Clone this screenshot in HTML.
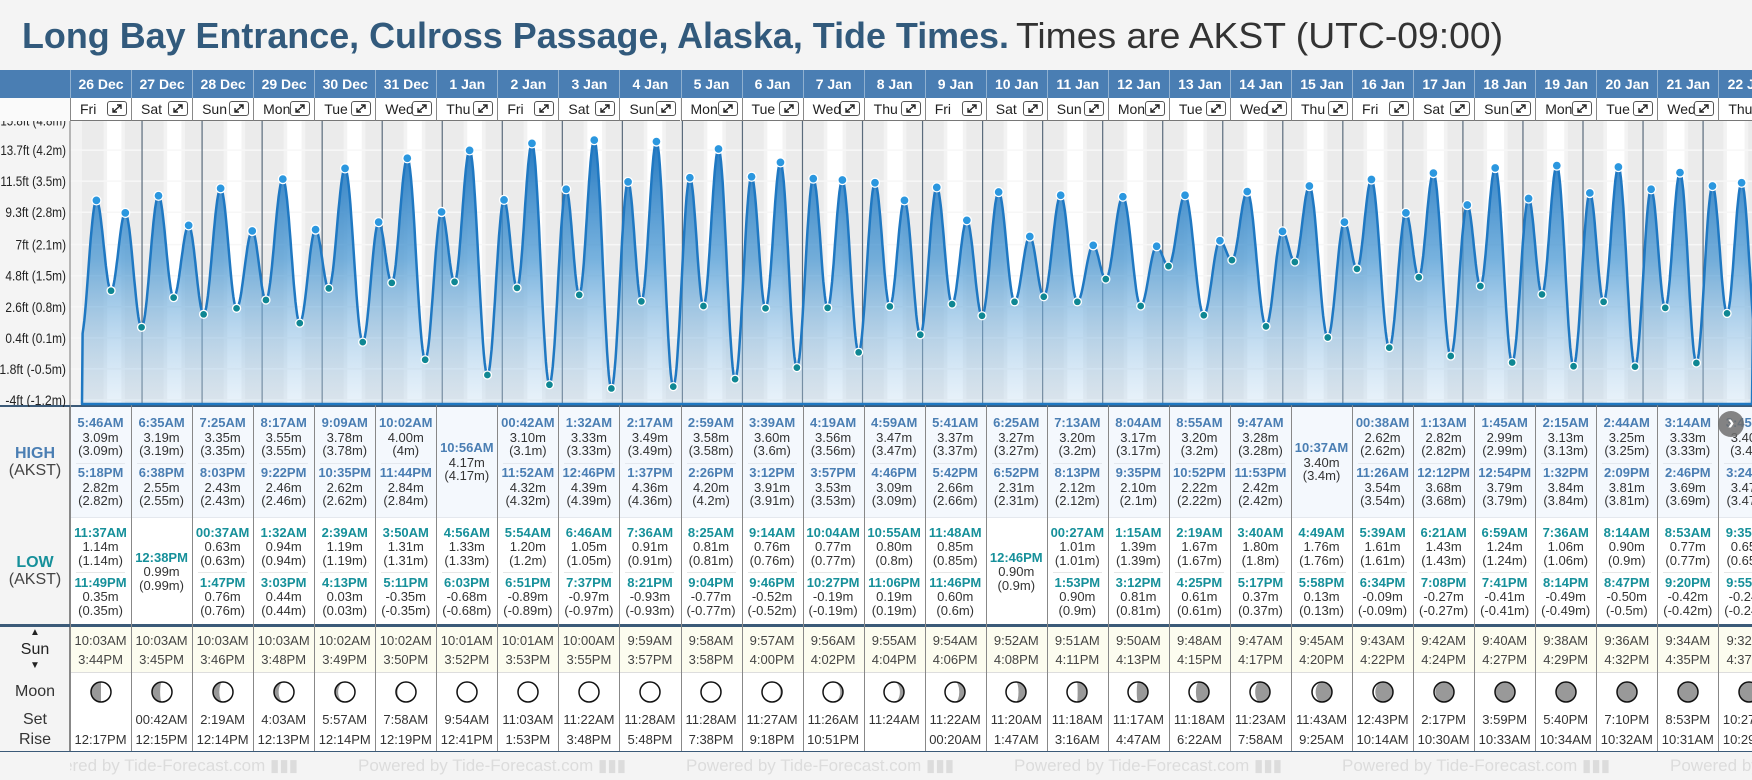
<!DOCTYPE html>
<html><head><meta charset="utf-8"><title>Tide Times</title>
<style>
body{margin:0;width:1752px;height:780px;overflow:hidden;background:#f4f4f4;font-family:"Liberation Sans",sans-serif;position:relative}
.a{position:absolute}
</style></head><body>
<svg class="a" style="left:0;top:0" width="1752" height="68">
<text x="22" y="48" font-family="Liberation Sans, sans-serif" font-weight="bold" font-size="36" fill="#325a7c" textLength="987" lengthAdjust="spacingAndGlyphs">Long Bay Entrance, Culross Passage, Alaska, Tide Times.</text>
<text x="1016" y="48" font-family="Liberation Sans, sans-serif" font-size="36" fill="#333" textLength="487" lengthAdjust="spacingAndGlyphs">Times are AKST (UTC-09:00)</text>
</svg>
<div id="root" class="a" style="left:0;top:0;width:1752px;height:780px"></div>
<svg id="chart" class="a" style="left:0;top:121px" width="1752" height="286"></svg>
<script>
const days=['26 Dec','27 Dec','28 Dec','29 Dec','30 Dec','31 Dec','1 Jan','2 Jan','3 Jan','4 Jan','5 Jan','6 Jan','7 Jan','8 Jan','9 Jan','10 Jan','11 Jan','12 Jan','13 Jan','14 Jan','15 Jan','16 Jan','17 Jan','18 Jan','19 Jan','20 Jan','21 Jan','22 Jan'];
const weekdays=['Fri','Sat','Sun','Mon','Tue','Wed','Thu','Fri','Sat','Sun','Mon','Tue','Wed','Thu','Fri','Sat','Sun','Mon','Tue','Wed','Thu','Fri','Sat','Sun','Mon','Tue','Wed','Thu'];
const highTimes=[["5:46AM","5:18PM"],["6:35AM","6:38PM"],["7:25AM","8:03PM"],["8:17AM","9:22PM"],["9:09AM","10:35PM"],["10:02AM","11:44PM"],["10:56AM"],["00:42AM","11:52AM"],["1:32AM","12:46PM"],["2:17AM","1:37PM"],["2:59AM","2:26PM"],["3:39AM","3:12PM"],["4:19AM","3:57PM"],["4:59AM","4:46PM"],["5:41AM","5:42PM"],["6:25AM","6:52PM"],["7:13AM","8:13PM"],["8:04AM","9:35PM"],["8:55AM","10:52PM"],["9:47AM","11:53PM"],["10:37AM"],["00:38AM","11:26AM"],["1:13AM","12:12PM"],["1:45AM","12:54PM"],["2:15AM","1:32PM"],["2:44AM","2:09PM"],["3:14AM","2:46PM"],["3:45AM","3:24PM"]];
const highHeights=[[3.09,2.82],[3.19,2.55],[3.35,2.43],[3.55,2.46],[3.78,2.62],[4.00,2.84],[4.17],[3.10,4.32],[3.33,4.39],[3.49,4.36],[3.58,4.20],[3.60,3.91],[3.56,3.53],[3.47,3.09],[3.37,2.66],[3.27,2.31],[3.20,2.12],[3.17,2.10],[3.20,2.22],[3.28,2.42],[3.40],[2.62,3.54],[2.82,3.68],[2.99,3.79],[3.13,3.84],[3.25,3.81],[3.33,3.69],[3.40,3.47]];
const lowTimes=[["11:37AM","11:49PM"],["12:38PM"],["00:37AM","1:47PM"],["1:32AM","3:03PM"],["2:39AM","4:13PM"],["3:50AM","5:11PM"],["4:56AM","6:03PM"],["5:54AM","6:51PM"],["6:46AM","7:37PM"],["7:36AM","8:21PM"],["8:25AM","9:04PM"],["9:14AM","9:46PM"],["10:04AM","10:27PM"],["10:55AM","11:06PM"],["11:48AM","11:46PM"],["12:46PM"],["00:27AM","1:53PM"],["1:15AM","3:12PM"],["2:19AM","4:25PM"],["3:40AM","5:17PM"],["4:49AM","5:58PM"],["5:39AM","6:34PM"],["6:21AM","7:08PM"],["6:59AM","7:41PM"],["7:36AM","8:14PM"],["8:14AM","8:47PM"],["8:53AM","9:20PM"],["9:35AM","9:55PM"]];
const lowHeights=[[1.14,0.35],[0.99],[0.63,0.76],[0.94,0.44],[1.19,0.03],[1.31,-0.35],[1.33,-0.68],[1.20,-0.89],[1.05,-0.97],[0.91,-0.93],[0.81,-0.77],[0.76,-0.52],[0.77,-0.19],[0.80,0.19],[0.85,0.60],[0.90],[1.01,0.90],[1.39,0.81],[1.67,0.61],[1.80,0.37],[1.76,0.13],[1.61,-0.09],[1.43,-0.27],[1.24,-0.41],[1.06,-0.49],[0.90,-0.50],[0.77,-0.42],[0.65,-0.24]];
const sunRise=['10:03AM','10:03AM','10:03AM','10:03AM','10:02AM','10:02AM','10:01AM','10:01AM','10:00AM','9:59AM','9:58AM','9:57AM','9:56AM','9:55AM','9:54AM','9:52AM','9:51AM','9:50AM','9:48AM','9:47AM','9:45AM','9:43AM','9:42AM','9:40AM','9:38AM','9:36AM','9:34AM','9:32AM'];
const sunSet=['3:44PM','3:45PM','3:46PM','3:48PM','3:49PM','3:50PM','3:52PM','3:53PM','3:55PM','3:57PM','3:58PM','4:00PM','4:02PM','4:04PM','4:06PM','4:08PM','4:11PM','4:13PM','4:15PM','4:17PM','4:20PM','4:22PM','4:24PM','4:27PM','4:29PM','4:32PM','4:35PM','4:37PM'];
const moonSet=['','00:42AM','2:19AM','4:03AM','5:57AM','7:58AM','9:54AM','11:03AM','11:22AM','11:28AM','11:28AM','11:27AM','11:26AM','11:24AM','11:22AM','11:20AM','11:18AM','11:17AM','11:18AM','11:23AM','11:43AM','12:43PM','2:17PM','3:59PM','5:40PM','7:10PM','8:53PM','10:27PM'];
const moonRise=['12:17PM','12:15PM','12:14PM','12:13PM','12:14PM','12:19PM','12:41PM','1:53PM','3:48PM','5:48PM','7:38PM','9:18PM','10:51PM','','00:20AM','1:47AM','3:16AM','4:47AM','6:22AM','7:58AM','9:25AM','10:14AM','10:30AM','10:33AM','10:34AM','10:32AM','10:31AM','10:29AM'];
const moonPhase=[0.25,0.28,0.31,0.34,0.37,0.41,0.44,0.47,0.50,0.53,0.56,0.59,0.62,0.65,0.68,0.71,0.74,0.77,0.80,0.83,0.86,0.89,0.92,0.95,0.98,0.02,0.05,0.08];
const tickFt=['-4ft','-1.8ft','0.4ft','2.6ft','4.8ft','7ft','9.3ft','11.5ft','13.7ft','15.8ft'];
const tickM=['-1.2m','-0.5m','0.1m','0.8m','1.5m','2.1m','2.8m','3.5m','4.2m','4.8m'];
const priorLowTime=-0.03, priorLowHeight=0.05;

const CW=61.05, CX=70;
const root=document.getElementById('root');
function mk(tag,css,txt,parent){const e=document.createElement(tag);e.style.cssText=css;if(txt!==undefined)e.textContent=txt;(parent||root).appendChild(e);return e;}

let e;
e=mk('div','position:absolute;left:0;top:70px;width:1752px;height:28px;background:#4a7eb3');


e=mk('div','position:absolute;left:0;top:98px;width:70px;height:23px;background:#fafafa;border-bottom:1px solid #777');


e=mk('div','position:absolute;left:0;top:405px;width:70px;height:347px;background:#f4f4f4;border-right:1px solid #888;box-sizing:border-box');


e=mk('div','position:absolute;left:70px;top:405px;width:1682px;height:112px;background:#f4f8fd');


e=mk('div','position:absolute;left:70px;top:517px;width:1682px;height:109px;background:#fff;border-top:1px solid #e4e8ee');


e=mk('div','position:absolute;left:70px;top:626px;width:1682px;height:46px;background:#fcfcef');


e=mk('div','position:absolute;left:70px;top:672px;width:1682px;height:79px;background:#fff;border-top:1px solid #ddd');


e=mk('div','position:absolute;left:0;top:624px;width:1752px;height:3px;background:#3b5a78');


e=mk('div','position:absolute;left:0;top:404px;width:1752px;height:3px;background:#3b5a78');


e=mk('div','position:absolute;left:0;top:751px;width:1752px;height:1px;background:#3b5a78');



function lab(txt,y,css,name){const d=mk('div','position:absolute;left:0;width:70px;top:'+(y-9)+'px;text-align:center;line-height:18px;font-size:16px;'+css,txt);}
lab('HIGH',454,'font-weight:bold;color:#4a7eb3','high-label');
lab('(AKST)',471,'color:#444','high-tz-label');
lab('LOW',563,'font-weight:bold;color:#16909a','low-label');
lab('(AKST)',580,'color:#444','low-tz-label');
lab('▲',633,'font-size:10px;color:#222','sunrise-arrow');
lab('Sun',650,'color:#222','sun-label');
lab('▼',666,'font-size:10px;color:#222','sunset-arrow');
lab('Moon',692,'color:#333','moon-label');
lab('Set',720,'color:#333','moonset-label');
lab('Rise',740,'color:#333','moonrise-label');

function txt(x,y,s,css,name){const d=mk('div','position:absolute;left:'+x+'px;width:'+CW+'px;top:'+(y-8)+'px;text-align:center;line-height:16px;white-space:nowrap;font-size:13px;color:#333;'+css,s);return d;}
function fmtP(v){return '('+String(parseFloat(v.toFixed(2)))+'m)';}

for(let i=0;i<days.length;i++){
  const x=CX+i*CW;
  e=mk('div','position:absolute;left:'+x+'px;top:70px;width:'+CW+'px;height:28px;box-sizing:border-box;border-left:1px solid #8fb0d0;color:#fff;font-weight:bold;font-size:14px;line-height:28px;text-align:center;white-space:nowrap',days[i]);
  
  
  const dc=mk('div','position:absolute;left:'+x+'px;top:98px;width:'+CW+'px;height:23px;box-sizing:border-box;border-left:1px solid #888;border-bottom:1px solid #777;background:#fff');
  
  
  e=mk('div','position:absolute;left:9px;top:2px;font-size:14px;line-height:18px;color:#222',weekdays[i],dc);
  
  
  const b=mk('div','position:absolute;right:4px;top:3px;width:20px;height:15px;border:1px solid #555;border-radius:3px;box-sizing:border-box;background:#fff',undefined,dc);
  b.innerHTML='<svg width="18" height="13"><path d="M5 10 L13 3 M9 3 L13 3 L13 7 M5 6 L5 10 L9 10" stroke="#222" stroke-width="1.4" fill="none"/></svg>';
  
  
  e=mk('div','position:absolute;left:'+x+'px;top:405px;width:1px;height:346px;background:#888');
  
  
  const hs=highTimes[i];
  const hy=hs.length===1?[448]:[423,473];
  for(let k=0;k<hs.length;k++){
    const y=hy[k];
    txt(x,y,hs[k],'font-weight:bold;color:#4a7eb3;font-size:13px','high-time');
    txt(x,y+15,highHeights[i][k].toFixed(2)+'m','','high-height');
    txt(x,y+28,fmtP(highHeights[i][k]),'','high-height-paren');
  }
  if(hs.length===2){e=mk('div','position:absolute;left:'+(x+6)+'px;top:463px;width:'+(CW-12)+'px;height:1px;background:#e4e8ee');}
  const ls=lowTimes[i];
  const ly=ls.length===1?[558]:[533,583];
  for(let k=0;k<ls.length;k++){
    const y=ly[k];
    txt(x,y,ls[k],'font-weight:bold;color:#16909a;font-size:13px','low-time');
    txt(x,y+14,lowHeights[i][k].toFixed(2)+'m','','low-height');
    txt(x,y+28,fmtP(lowHeights[i][k]),'','low-height-paren');
  }
  if(ls.length===2){e=mk('div','position:absolute;left:'+(x+6)+'px;top:572px;width:'+(CW-12)+'px;height:1px;background:#e6e6e6');}
  txt(x,641,sunRise[i],'color:#444','sunrise-time');
  txt(x,660,sunSet[i],'color:#444','sunset-time');
  if(moonSet[i])txt(x,720,moonSet[i],'color:#333','moonset-time');
  if(moonRise[i])txt(x,740,moonRise[i],'color:#333','moonrise-time');
  const p=moonPhase[i], rx=Math.abs(Math.cos(2*Math.PI*p))*10;
  let d;
  if(p<0.5){const s=p<0.25?0:1;d='M0,-10 A10,10 0 0 1 0,10 A'+rx+',10 0 0 '+s+' 0,-10Z';}
  else{const s=p<0.75?0:1;d='M0,-10 A10,10 0 0 0 0,10 A'+rx+',10 0 0 '+s+' 0,-10Z';}
  const m=mk('div','position:absolute;left:'+(x+CW/2-12)+'px;top:680px;width:24px;height:24px');
  m.innerHTML='<svg width="24" height="24"><g transform="translate(12,12)"><circle r="10" fill="#999"/><path d="'+d+'" fill="#fff"/><circle r="10" fill="none" stroke="#111" stroke-width="1.5"/></g></svg>';
  
  
}
e=mk('div','position:absolute;left:1718px;top:411px;width:26px;height:26px;border-radius:13px;background:rgba(110,110,110,0.85);color:#fff;font-size:20px;font-weight:bold;line-height:25px;text-align:center','›');


const foot=mk('div','position:absolute;left:70px;top:752px;width:1682px;height:28px;overflow:hidden');


for(let k=0;k<6;k++){
  e=mk('div','position:absolute;left:'+(-40+k*328)+'px;top:4px;font-size:17px;color:#dcdcdc;white-space:nowrap;line-height:20px','Powered by Tide-Forecast.com ▮▮▮',foot);
  
  
}

const NS='http://www.w3.org/2000/svg';
const svg=document.getElementById('chart');
const OY=121, DX=60.04, X0=82;
function yM(m){return 400-(m*3.28084+4)*14.12-OY;}
function yFt(f){return 400-(f+4)*14.12-OY;}
function xT(t){return X0+t*DX;}
function pm(s){const mm=s.match(/(\d+):(\d+)(AM|PM)/);let h=+mm[1]%12;if(mm[3]==='PM')h+=12;return (h*60+ +mm[2])/1440;}
function el(tag,attrs,parent){const n=document.createElementNS(NS,tag);for(const k in attrs)n.setAttribute(k,attrs[k]);(parent||svg).appendChild(n);return n;}
const H=284;
let n=el('rect',{x:0,y:0,width:70,height:H,fill:'#f4f4f4'});


n=el('rect',{x:70,y:0,width:1682,height:H,fill:'#ebebeb'});


n=el('rect',{x:70,y:0,width:12,height:H,fill:'#f3f3f3'});


for(let i=0;i<days.length;i++){
  const a=xT(i+pm(sunRise[i])), b=xT(i+pm(sunSet[i]));
  n=el('rect',{x:xT(i+pm(sunRise[i])-0.06),y:0,width:(b-a)+DX*0.12,height:H,fill:'#f3f3f3'});
  
  
  n=el('rect',{x:a,y:0,width:b-a,height:H,fill:'#ffffff'});
  
  
}
for(let k=0;k<tickFt.length;k++){
  const f=parseFloat(tickFt[k]);const y=yFt(f);
  n=el('line',{x1:70,x2:1752,y1:y,y2:y,stroke:'#f7f7f7','stroke-width':1.5});
  
  
  const lbl=tickFt[k]+' ('+tickM[k]+')';
  n=el('text',{x:66-lbl.length*5.05,y:y+5,'font-size':14,fill:'#222','font-family':'Liberation Sans, sans-serif',textLength:(lbl.length*5.05).toFixed(1),lengthAdjust:'spacingAndGlyphs'});
  n.textContent=lbl;
  
  
}
for(let i=1;i<=days.length;i++){
  const x=xT(i);
  n=el('line',{x1:x,x2:x,y1:0,y2:H,stroke:'#5a6b7c','stroke-width':1.2});
  
  
}
const ext=[{t:priorLowTime,h:priorLowHeight,k:'L'}];
for(let i=0;i<days.length;i++){
  highTimes[i].forEach((s,k)=>ext.push({t:i+pm(s),h:highHeights[i][k],k:'H'}));
  lowTimes[i].forEach((s,k)=>ext.push({t:i+pm(s),h:lowHeights[i][k],k:'L'}));
}
ext.sort((a,b)=>a.t-b.t);
const tEnd=(1752-X0)/DX;
const pts=[];
for(let j=0;j<ext.length-1;j++){
  const A=ext[j],B=ext[j+1];
  for(let s=0;s<=20;s++){
    const t=A.t+(B.t-A.t)*s/20;
    if(t<0||t>tEnd+0.02)continue;
    const f=(1-Math.cos(Math.PI*s/20))/2;
    pts.push([xT(t),yM(A.h+(B.h-A.h)*f)]);
  }
}
const defs=el('defs',{});
const g=el('linearGradient',{id:'fg',x1:0,y1:0,x2:0,y2:1},defs);
el('stop',{offset:'0%','stop-color':'#1a72bd','stop-opacity':0.95},g);
el('stop',{offset:'45%','stop-color':'#4a98d3','stop-opacity':0.75},g);
el('stop',{offset:'100%','stop-color':'#b4d4ee','stop-opacity':0.3},g);
let dStr='M'+X0+','+(H-1)+' L'+pts.map(p=>p[0].toFixed(1)+','+p[1].toFixed(1)).join(' L')+' L1752,'+(H-1)+'Z';
n=el('path',{d:dStr,fill:'url(#fg)',stroke:'none'});


n=el('path',{d:dStr,fill:'none',stroke:'#1f78c2','stroke-width':2.5,'stroke-linejoin':'round'});


ext.forEach(p=>{
  if(p.t<0||p.t>tEnd)return;
  const c=el('circle',{cx:xT(p.t),cy:yM(p.h),r:p.k==='H'?4.5:4,fill:p.k==='H'?'#2b97df':'#0f8793',stroke:'#fff','stroke-width':1.3});
  
  
});
n=el('line',{x1:70,x2:70,y1:0,y2:H,stroke:'#777','stroke-width':1});


</script>
</body></html>
